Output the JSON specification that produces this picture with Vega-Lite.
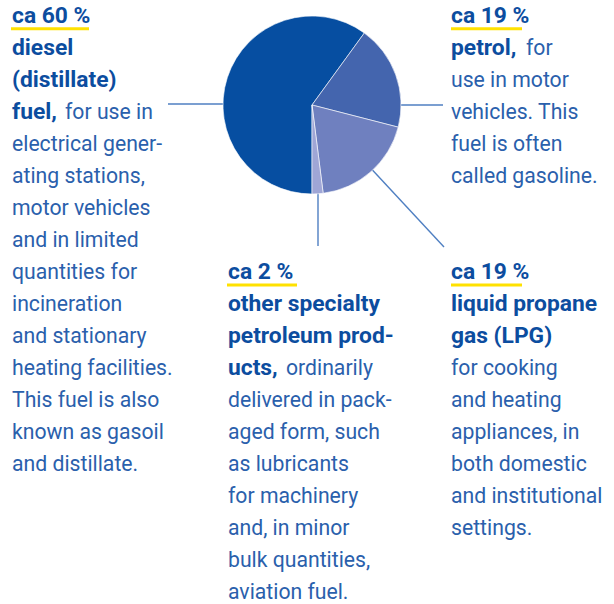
{
  "$schema": "https://vega.github.io/schema/vega-lite/v6.json",
  "width": 614,
  "height": 604,
  "autosize": {"type": "fit", "contains": "padding"},
  "padding": 0,
  "background": "#ffffff",
  "config": {"view": {"stroke": null}},
  "datasets": {
    "slices": [
      {"cat": "diesel", "pct": 60, "ord": 1},
      {"cat": "petrol", "pct": 19, "ord": 2},
      {"cat": "lpg", "pct": 19, "ord": 3},
      {"cat": "other", "pct": 2, "ord": 4}
    ],
    "connectors": [
      {"id": "diesel", "x": 168, "x2": 312, "line": 2.522, "line2": 2.522},
      {"id": "petrol", "x": 312, "x2": 443, "line": 2.553, "line2": 2.553},
      {"id": "lpg", "x": 312, "x2": 444, "line": 2.553, "line2": 6.99},
      {"id": "other", "x": 318, "x2": 318, "line": 4.0, "line2": 6.96}
    ],
    "underlines": [
      {"id": "diesel", "x": 11, "x2": 89, "line": 0.169},
      {"id": "petrol", "x": 451, "x2": 522, "line": 0.169},
      {"id": "other", "x": 227, "x2": 297, "line": 8.178},
      {"id": "lpg", "x": 451, "x2": 522, "line": 8.178}
    ],
    "texts": [
      {"x": 12, "line": 0, "text": "ca 60 %", "kind": "bold"},
      {"x": 12, "line": 1, "text": "diesel", "kind": "bold"},
      {"x": 12, "line": 2, "text": "(distillate)", "kind": "bold"},
      {"x": 12, "line": 3, "text": "fuel,", "kind": "bold"},
      {"x": 65, "line": 3, "text": "for use in", "kind": "body"},
      {"x": 12, "line": 4, "text": "electrical gener-", "kind": "body"},
      {"x": 12, "line": 5, "text": "ating stations,", "kind": "body"},
      {"x": 12, "line": 6, "text": "motor vehicles", "kind": "body"},
      {"x": 12, "line": 7, "text": "and in limited", "kind": "body"},
      {"x": 12, "line": 8, "text": "quantities for", "kind": "body"},
      {"x": 12, "line": 9, "text": "incineration", "kind": "body"},
      {"x": 12, "line": 10, "text": "and stationary", "kind": "body"},
      {"x": 12, "line": 11, "text": "heating facilities.", "kind": "body"},
      {"x": 12, "line": 12, "text": "This fuel is also", "kind": "body"},
      {"x": 12, "line": 13, "text": "known as gasoil", "kind": "body"},
      {"x": 12, "line": 14, "text": "and distillate.", "kind": "body"},
      {"x": 451, "line": 0, "text": "ca 19 %", "kind": "bold"},
      {"x": 451, "line": 1, "text": "petrol,", "kind": "bold"},
      {"x": 526, "line": 1, "text": "for", "kind": "body"},
      {"x": 451, "line": 2, "text": "use in motor", "kind": "body"},
      {"x": 451, "line": 3, "text": "vehicles. This", "kind": "body"},
      {"x": 451, "line": 4, "text": "fuel is often", "kind": "body"},
      {"x": 451, "line": 5, "text": "called gasoline.", "kind": "body"},
      {"x": 228, "line": 8, "text": "ca 2 %", "kind": "bold"},
      {"x": 228, "line": 9, "text": "other specialty", "kind": "bold"},
      {"x": 228, "line": 10, "text": "petroleum prod-", "kind": "bold"},
      {"x": 228, "line": 11, "text": "ucts,", "kind": "bold"},
      {"x": 286, "line": 11, "text": "ordinarily", "kind": "body"},
      {"x": 228, "line": 12, "text": "delivered in pack-", "kind": "body"},
      {"x": 228, "line": 13, "text": "aged form, such", "kind": "body"},
      {"x": 228, "line": 14, "text": "as lubricants", "kind": "body"},
      {"x": 228, "line": 15, "text": "for machinery", "kind": "body"},
      {"x": 228, "line": 16, "text": "and, in minor", "kind": "body"},
      {"x": 228, "line": 17, "text": "bulk quantities,", "kind": "body"},
      {"x": 228, "line": 18, "text": "aviation fuel.", "kind": "body"},
      {"x": 451, "line": 8, "text": "ca 19 %", "kind": "bold"},
      {"x": 451, "line": 9, "text": "liquid propane", "kind": "bold"},
      {"x": 451, "line": 10, "text": "gas (LPG)", "kind": "bold"},
      {"x": 451, "line": 11, "text": "for cooking", "kind": "body"},
      {"x": 451, "line": 12, "text": "and heating", "kind": "body"},
      {"x": 451, "line": 13, "text": "appliances, in", "kind": "body"},
      {"x": 451, "line": 14, "text": "both domestic", "kind": "body"},
      {"x": 451, "line": 15, "text": "and institutional", "kind": "body"},
      {"x": 451, "line": 16, "text": "settings.", "kind": "body"}
    ]
  },
  "layer": [
    {
      "data": {"name": "connectors"},
      "mark": {"type": "rule", "color": "#4f7fc2", "strokeWidth": 1.4},
      "encoding": {
        "x": {"field": "x", "type": "quantitative", "scale": {"domain": [0, 614]}, "axis": null},
        "x2": {"field": "x2"},
        "y": {"field": "line", "type": "quantitative", "scale": {"domain": [-0.728, 18.147], "reverse": true}, "axis": null},
        "y2": {"field": "line2"}
      }
    },
    {
      "data": {"name": "slices"},
      "mark": {"type": "arc", "outerRadius": 89, "stroke": "#ffffff", "strokeWidth": 0.6},
      "encoding": {
        "theta": {"field": "pct", "type": "quantitative", "stack": true, "scale": {"range": [3.14159265, 9.42477796]}},
        "order": {"field": "ord", "type": "quantitative"},
        "color": {"field": "cat", "type": "nominal", "legend": null,
          "scale": {"domain": ["diesel", "petrol", "lpg", "other"], "range": ["#064ea1", "#4465ae", "#6f80bf", "#9fa6d6"]}},
        "x": {"datum": 312, "type": "quantitative", "scale": {"domain": [0, 614]}, "axis": null},
        "y": {"datum": 2.553, "type": "quantitative", "scale": {"domain": [-0.728, 18.147], "reverse": true}, "axis": null}
      }
    },
    {
      "data": {"name": "underlines"},
      "mark": {"type": "rule", "color": "#ffe100", "strokeWidth": 3},
      "encoding": {
        "x": {"field": "x", "type": "quantitative", "scale": {"domain": [0, 614]}, "axis": null},
        "x2": {"field": "x2"},
        "y": {"field": "line", "type": "quantitative", "scale": {"domain": [-0.728, 18.147], "reverse": true}, "axis": null}
      }
    },
    {
      "data": {"name": "texts"},
      "transform": [{"filter": "datum.kind === 'body'"}],
      "mark": {"type": "text", "align": "left", "baseline": "alphabetic", "font": "Roboto", "fontSize": 21.2, "fontWeight": "normal", "color": "#2a60ac"},
      "encoding": {
        "x": {"field": "x", "type": "quantitative", "scale": {"domain": [0, 614]}, "axis": null},
        "y": {"field": "line", "type": "quantitative", "scale": {"domain": [-0.728, 18.147], "reverse": true}, "axis": null},
        "text": {"field": "text", "type": "nominal"}
      }
    },
    {
      "data": {"name": "texts"},
      "transform": [{"filter": "datum.kind === 'bold'"}],
      "mark": {"type": "text", "align": "left", "baseline": "alphabetic", "font": "Roboto", "fontSize": 22.8, "fontWeight": "bold", "color": "#0c4d9f"},
      "encoding": {
        "x": {"field": "x", "type": "quantitative", "scale": {"domain": [0, 614]}, "axis": null},
        "y": {"field": "line", "type": "quantitative", "scale": {"domain": [-0.728, 18.147], "reverse": true}, "axis": null},
        "text": {"field": "text", "type": "nominal"}
      }
    }
  ]
}
